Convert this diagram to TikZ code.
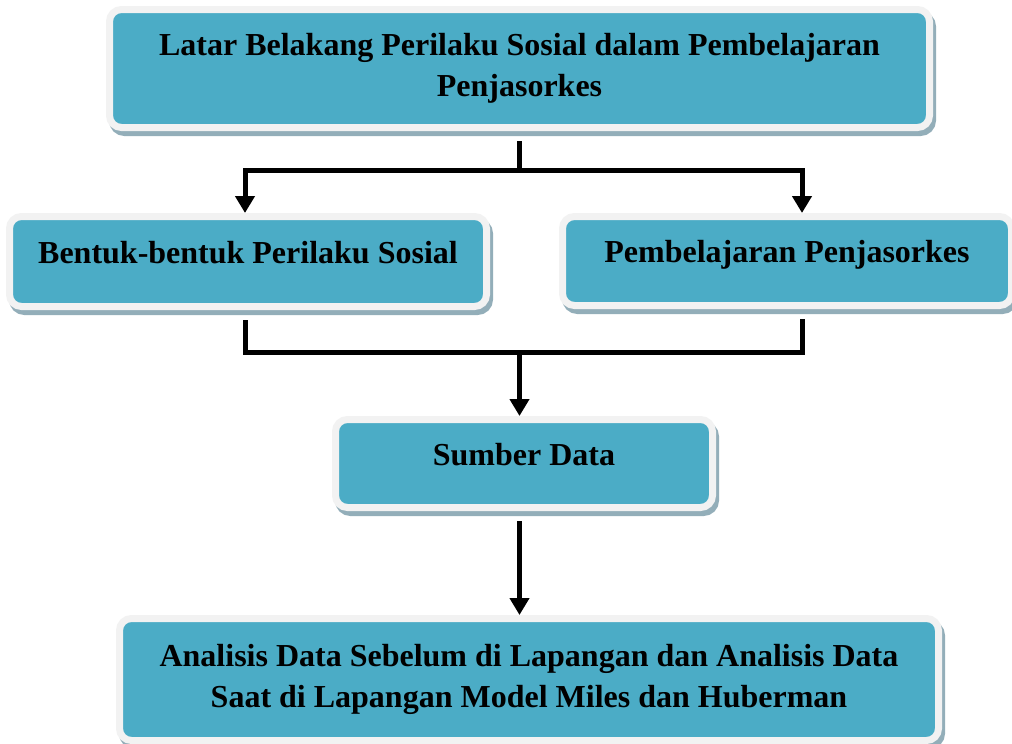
\documentclass[tikz,border=0pt]{standalone}
\usepackage{fontspec}
\setmainfont{Liberation Serif}
\usetikzlibrary{arrows.meta}

\definecolor{isi}{HTML}{4BACC6}
\definecolor{bingkai}{HTML}{F2F2F2}
\definecolor{bayang}{HTML}{93AEB9}

\tikzset{
    kotak/.style={rectangle, rounded corners=12pt, fill=isi, draw=bingkai, line width=7pt,
        preaction={draw=bayang, fill=bayang, line width=7pt, transform canvas={xshift=3pt, yshift=-5pt}},
        align=center, inner sep=0pt, font=\fontsize{32}{41}\selectfont\bfseries},
    satu/.style={text height=21.5pt, text depth=18.5pt},
    garis/.style={line width=5pt, shorten <=10pt, shorten >=10pt},
    panah/.style={line width=5pt, -{Triangle[width=19pt,length=17pt]}}
}

\begin{document}
\begin{tikzpicture}[x=1pt, y=-1pt]

    \useasboundingbox (0,0) rectangle (1012,744);

    % Boxes
    \node[kotak, minimum width=820pt, minimum height=118pt] (latar) at (519.5,68.5)
        {Latar Belakang Perilaku Sosial dalam Pembelajaran\\Penjasorkes};
    \node[kotak, satu, minimum width=477pt, minimum height=90pt] (bentuk) at (248,261.5)
        {Bentuk-bentuk Perilaku Sosial};
    \node[kotak, satu, minimum width=449pt, minimum height=89pt] (penjas) at (787,261)
        {Pembelajaran Penjasorkes};
    \node[kotak, satu, minimum width=377pt, minimum height=88pt] (sumber) at (524,463.5)
        {Sumber Data};
    \node[kotak, minimum width=819pt, minimum height=122pt] (analisis) at (529,679.5)
        {Analisis Data Sebelum di Lapangan dan Analisis Data\\Saat di Lapangan Model Miles dan Huberman};

    % Branch points
    \coordinate (cabang) at (519.5,170);
    \coordinate (gabung) at (519.5,352);
    \coordinate (ki) at (245,0);
    \coordinate (ka) at (802,0);

    % Split to the two topics
    \draw[line width=5pt, shorten <=10pt] (latar.south) -- (cabang);
    \draw[panah] (cabang) -| (bentuk.north -| ki);
    \draw[panah] (cabang) -| (penjas.north -| ka);

    % Join into the data source
    \draw[garis] (bentuk.south -| ki) |- (gabung) -| (penjas.south -| ka);
    \draw[panah] (gabung) -- (gabung |- sumber.north);

    % Analysis
    \draw[panah, shorten <=10pt] (sumber.south -| gabung) -- (gabung |- analisis.north);

\end{tikzpicture}
\end{document}
